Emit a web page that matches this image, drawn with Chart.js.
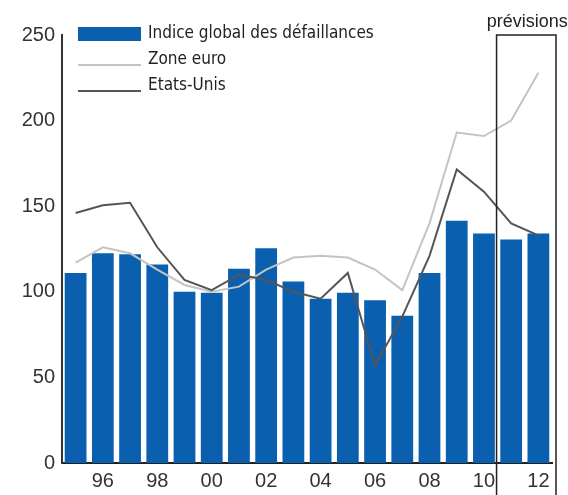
<!DOCTYPE html>
<html>
<head>
<meta charset="utf-8">
<script src="https://cdn.jsdelivr.net/npm/chart.js@4.4.1/dist/chart.umd.min.js"></script>
<style>
    html, body { margin: 0; padding: 0; background: #fff; }
    #wrap { width: 568px; height: 495px; position: relative; }
</style>
</head>
<body>
<div id="wrap"><canvas id="statsChart" width="568" height="495"></canvas></div>
<script>
const years = ['1995', '1996', '1997', '1998', '1999', '2000', '2001', '2002', '2003',
    '2004', '2005', '2006', '2007', '2008', '2009', '2010', '2011', '2012'];
const tickLabels = ['', '96', '', '98', '', '00', '', '02', '', '04', '', '06', '', '08', '', '10', '', '12'];
const defaillances = [111, 122.5, 122, 116, 100, 99.5, 113.5, 125.5, 106, 96, 99.5, 95, 86, 111, 141.5, 134, 130.5, 134];
const zoneEuro = [117, 126, 122.5, 113, 104, 100, 103, 113, 120, 121, 120, 113, 101, 140, 193, 191, 200, 228];
const etatsUnis = [146, 150.5, 152, 126, 107, 101, 110, 107, 100, 96, 111, 57, 85.5, 121, 171.5, 158.5, 140, 133];
const yTicks = [0, 50, 100, 150, 200, 250];
const forecastStart = '2011';
const forecastLabel = 'prévisions';

const tickFont = { family: 'Liberation Sans, Arial, sans-serif', size: 20 };
const legendFont = '17px "Liberation Sans Narrow", "DejaVu Sans Condensed", sans-serif';

// legend drawn inside the plot, top left
const legendPlugin = {
    id: 'insideLegend',
    afterDatasetsDraw(c) {
        const ctx = c.ctx;
        const left = c.chartArea.left + 16;
        const top = c.chartArea.top;
        ctx.save();
        ctx.font = legendFont;
        ctx.fillStyle = '#222';
        ctx.textBaseline = 'middle';
        c.data.datasets.forEach((ds, i) => {
            const y = top - 1 + i * 26;
            if (ds.type === 'bar') {
                ctx.fillStyle = ds.backgroundColor;
                ctx.fillRect(left, y - 7, 63, 14);
            } else {
                ctx.strokeStyle = ds.borderColor;
                ctx.lineWidth = ds.borderWidth;
                ctx.beginPath();
                ctx.moveTo(left, y + 5);
                ctx.lineTo(left + 63, y + 5);
                ctx.stroke();
            }
            ctx.fillStyle = '#222';
            ctx.fillText(ds.label, left + 70, y);
        });
        ctx.restore();
    }
};

// box around the forecast years
const forecastPlugin = {
    id: 'forecastBox',
    afterDatasetsDraw(c) {
        const x = c.scales.x;
        const i = years.indexOf(forecastStart);
        const x0 = (x.getPixelForValue(i - 1) + x.getPixelForValue(i)) / 2 - 1;
        const x1 = x.right + 4;
        const top = c.chartArea.top;
        const ctx = c.ctx;
        ctx.save();
        ctx.strokeStyle = '#222';
        ctx.lineWidth = 1.5;
        ctx.beginPath();
        ctx.moveTo(x0, c.height);
        ctx.lineTo(x0, top);
        ctx.lineTo(x1, top);
        ctx.lineTo(x1, c.height);
        ctx.stroke();
        ctx.font = '18px Liberation Sans, Arial, sans-serif';
        ctx.fillStyle = '#222';
        ctx.textAlign = 'center';
        ctx.textBaseline = 'alphabetic';
        ctx.fillText(forecastLabel, (x0 + x1) / 2 + 1, top - 8);
        ctx.restore();
    }
};

const ctx = document.getElementById('statsChart').getContext('2d');
const chart = new Chart(ctx, {
    data: {
        labels: years,
        datasets: [
            {
                type: 'bar',
                label: 'Indice global des défaillances',
                data: defaillances,
                backgroundColor: '#0a60ae',
                categoryPercentage: 1,
                barPercentage: 0.8,
                order: 2
            },
            {
                type: 'line',
                label: 'Zone euro',
                data: zoneEuro,
                borderColor: '#c4c4c4',
                borderWidth: 2,
                pointRadius: 0,
                tension: 0,
                order: 1
            },
            {
                type: 'line',
                label: 'Etats-Unis',
                data: etatsUnis,
                borderColor: '#555555',
                borderWidth: 2,
                pointRadius: 0,
                tension: 0,
                order: 0
            }
        ]
    },
    options: {
        responsive: false,
        animation: false,
        layout: { padding: { top: 35, right: 16, left: 0, bottom: 0 } },
        plugins: {
            legend: { display: false },
            tooltip: { enabled: false }
        },
        scales: {
            x: {
                offset: true,
                grid: { display: false, drawTicks: false },
                border: { display: true, color: '#222', width: 2 },
                ticks: {
                    autoSkip: false,
                    maxRotation: 0,
                    padding: 6,
                    color: '#333',
                    font: tickFont,
                    callback: (v, i) => tickLabels[i]
                },
                afterFit: s => { s.height = 32; }
            },
            y: {
                min: 0,
                max: 250,
                afterBuildTicks: s => { s.ticks = yTicks.map(v => ({ value: v })); },
                grid: { display: false, drawTicks: false },
                border: { display: true, color: '#333', width: 2 },
                ticks: {
                    padding: 7,
                    color: '#333',
                    font: tickFont
                },
                afterFit: s => { s.width = 62; }
            }
        }
    },
    plugins: [legendPlugin, forecastPlugin]
});
</script>
</body>
</html>
